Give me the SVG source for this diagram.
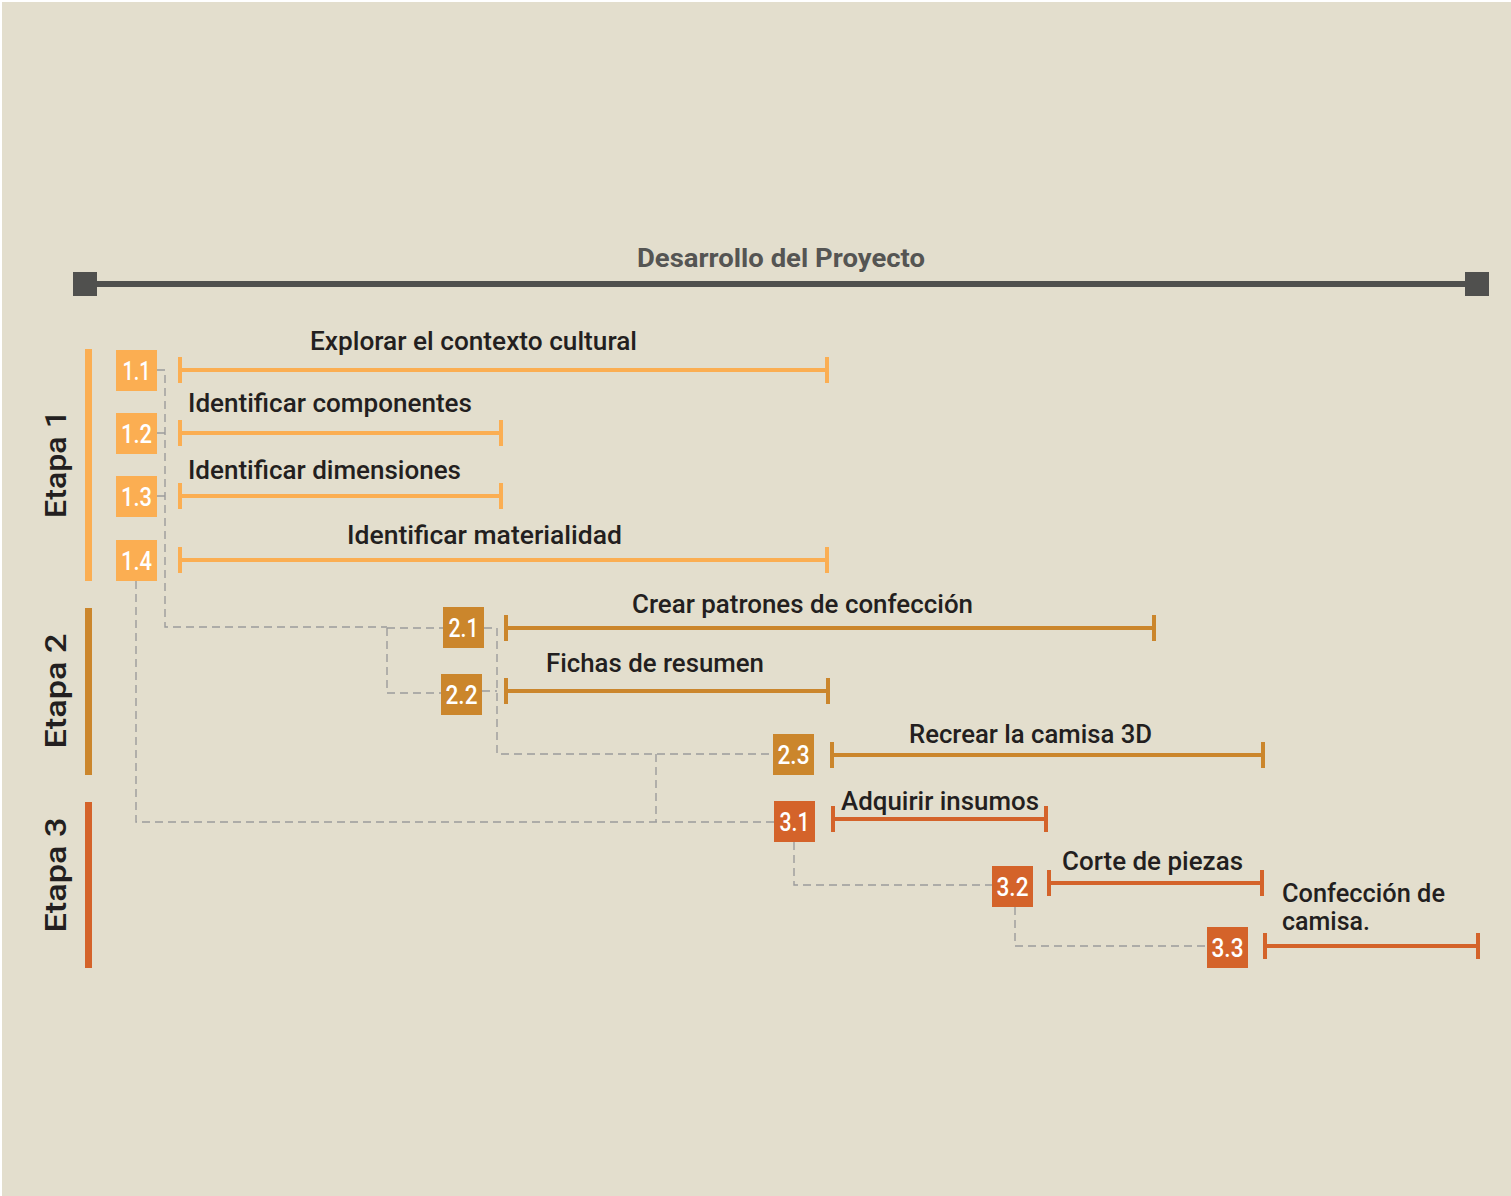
<svg xmlns="http://www.w3.org/2000/svg" width="1511" height="1196" viewBox="0 0 1511 1196">
  <style>
    .lbl { font-family: Roboto, "Liberation Sans", sans-serif; font-size: 26px; font-weight: 500; fill: #231f20; }
    .stage { font-family: Roboto, "Liberation Sans", sans-serif; font-size: 29px; font-weight: 500; fill: #231f20; }
    .num { font-family: Roboto, "Liberation Sans", sans-serif; font-size: 25px; font-weight: 500; fill: #ffffff; text-anchor: middle; }
    .title { font-family: Roboto, "Liberation Sans", sans-serif; font-size: 26px; font-weight: bold; fill: #555553; }
    .dash { fill: none; stroke: #9c9c9c; stroke-width: 1.4; stroke-dasharray: 8 5; }
    .bar1 { stroke: #FBAE52; stroke-width: 4; fill: none; }
    .bar2 { stroke: #CB862C; stroke-width: 4; fill: none; }
    .bar3 { stroke: #D4632A; stroke-width: 4; fill: none; }
    .c1 { fill: #FBAE52; }
    .c2 { fill: #CB862C; }
    .c3 { fill: #D4632A; }
  </style>
  <rect x="0" y="0" width="1511" height="1196" fill="#ffffff"/>
  <rect x="2" y="2" width="1509" height="1194" fill="#E3DECD"/>

  <g id="timeline">
    <line x1="85" y1="284" x2="1477" y2="284" stroke="#50504e" stroke-width="6"/>
    <rect x="73" y="272" width="24" height="24" fill="#50504e"/>
    <rect x="1465" y="272" width="24" height="24" fill="#50504e"/>
    <text class="title" x="781" y="267" text-anchor="middle" textLength="288" lengthAdjust="spacingAndGlyphs">Desarrollo del Proyecto</text>
  </g>

  <g id="stages">
    <g id="etapa1">
      <rect class="c1" x="85" y="349" width="7" height="232"/>
      <text class="stage" transform="translate(66,464) rotate(-90)" text-anchor="middle" textLength="108" lengthAdjust="spacingAndGlyphs">Etapa 1</text>
    </g>
    <g id="etapa2">
      <rect class="c2" x="85" y="608" width="7" height="167"/>
      <text class="stage" transform="translate(66,691) rotate(-90)" text-anchor="middle" textLength="115" lengthAdjust="spacingAndGlyphs">Etapa 2</text>
    </g>
    <g id="etapa3">
      <rect class="c3" x="85" y="802" width="7" height="166"/>
      <text class="stage" transform="translate(66,875) rotate(-90)" text-anchor="middle" textLength="115" lengthAdjust="spacingAndGlyphs">Etapa 3</text>
    </g>
  </g>

  <g id="connectors">
    <path class="dash" d="M157,370 H165 V627 H387 M387,628 H443"/>
    <path class="dash" d="M157,433 H165 M157,496 H165"/>
    <path class="dash" d="M387,628 V693 H441"/>
    <path class="dash" d="M136,581 V822 H774"/>
    <path class="dash" d="M484,628 H497 V754 H773 M482,691 H497"/>
    <path class="dash" d="M656,754 V822"/>
    <path class="dash" d="M794,842 V885 H992"/>
    <path class="dash" d="M1015,907 V946 H1207"/>
  </g>

  <g id="task-1-1">
    <rect class="c1" x="116" y="350" width="41" height="41"/>
    <text class="num" x="136.5" y="379.5" textLength="28" lengthAdjust="spacingAndGlyphs">1.1</text>
    <path class="bar1" d="M180,357 V383 M180,370 H827 M827,357 V383"/>
    <text class="lbl" x="310" y="350" textLength="327" lengthAdjust="spacingAndGlyphs">Explorar el contexto cultural</text>
  </g>
  <g id="task-1-2">
    <rect class="c1" x="116" y="413" width="41" height="41"/>
    <text class="num" x="136.5" y="442.5" textLength="31" lengthAdjust="spacingAndGlyphs">1.2</text>
    <path class="bar1" d="M180,420 V446 M180,433 H501 M501,420 V446"/>
    <text class="lbl" x="188" y="412" textLength="284" lengthAdjust="spacingAndGlyphs">Identificar componentes</text>
  </g>
  <g id="task-1-3">
    <rect class="c1" x="116" y="476" width="41" height="41"/>
    <text class="num" x="136.5" y="505.5" textLength="31" lengthAdjust="spacingAndGlyphs">1.3</text>
    <path class="bar1" d="M180,483 V509 M180,496 H501 M501,483 V509"/>
    <text class="lbl" x="188" y="479" textLength="273" lengthAdjust="spacingAndGlyphs">Identificar dimensiones</text>
  </g>
  <g id="task-1-4">
    <rect class="c1" x="116" y="540" width="41" height="41"/>
    <text class="num" x="136.5" y="569.5" textLength="31" lengthAdjust="spacingAndGlyphs">1.4</text>
    <path class="bar1" d="M180,547 V573 M180,560 H827 M827,547 V573"/>
    <text class="lbl" x="347" y="544" textLength="275" lengthAdjust="spacingAndGlyphs">Identificar materialidad</text>
  </g>

  <g id="task-2-1">
    <rect class="c2" x="443" y="607" width="41" height="41"/>
    <text class="num" x="463.5" y="636.5" textLength="30" lengthAdjust="spacingAndGlyphs">2.1</text>
    <path class="bar2" d="M506,615 V641 M506,628 H1154 M1154,615 V641"/>
    <text class="lbl" x="632" y="613" textLength="341" lengthAdjust="spacingAndGlyphs">Crear patrones de confección</text>
  </g>
  <g id="task-2-2">
    <rect class="c2" x="441" y="674" width="41" height="41"/>
    <text class="num" x="461.5" y="703.5" textLength="32" lengthAdjust="spacingAndGlyphs">2.2</text>
    <path class="bar2" d="M506,678 V704 M506,691 H828 M828,678 V704"/>
    <text class="lbl" x="546" y="672" textLength="218" lengthAdjust="spacingAndGlyphs">Fichas de resumen</text>
  </g>
  <g id="task-2-3">
    <rect class="c2" x="773" y="734" width="41" height="41"/>
    <text class="num" x="793.5" y="763.5" textLength="32" lengthAdjust="spacingAndGlyphs">2.3</text>
    <path class="bar2" d="M832,742 V768 M832,755 H1263 M1263,742 V768"/>
    <text class="lbl" x="909" y="743" textLength="243" lengthAdjust="spacingAndGlyphs">Recrear la camisa 3D</text>
  </g>

  <g id="task-3-1">
    <rect class="c3" x="774" y="801" width="41" height="41"/>
    <text class="num" x="794.5" y="830.5" textLength="30" lengthAdjust="spacingAndGlyphs">3.1</text>
    <path class="bar3" d="M833,806 V832 M833,819 H1046 M1046,806 V832"/>
    <text class="lbl" x="841" y="810" textLength="198" lengthAdjust="spacingAndGlyphs">Adquirir insumos</text>
  </g>
  <g id="task-3-2">
    <rect class="c3" x="992" y="866" width="41" height="41"/>
    <text class="num" x="1012.5" y="895.5" textLength="32" lengthAdjust="spacingAndGlyphs">3.2</text>
    <path class="bar3" d="M1049,870 V896 M1049,883 H1262 M1262,870 V896"/>
    <text class="lbl" x="1062" y="870" textLength="181" lengthAdjust="spacingAndGlyphs">Corte de piezas</text>
  </g>
  <g id="task-3-3">
    <rect class="c3" x="1207" y="927" width="41" height="41"/>
    <text class="num" x="1227.5" y="956.5" textLength="32" lengthAdjust="spacingAndGlyphs">3.3</text>
    <path class="bar3" d="M1265,933 V959 M1265,946 H1478 M1478,933 V959"/>
    <text class="lbl" x="1282" y="902" textLength="163" lengthAdjust="spacingAndGlyphs">Confección de</text>
    <text class="lbl" x="1282" y="930" textLength="88" lengthAdjust="spacingAndGlyphs">camisa.</text>
  </g>
</svg>
